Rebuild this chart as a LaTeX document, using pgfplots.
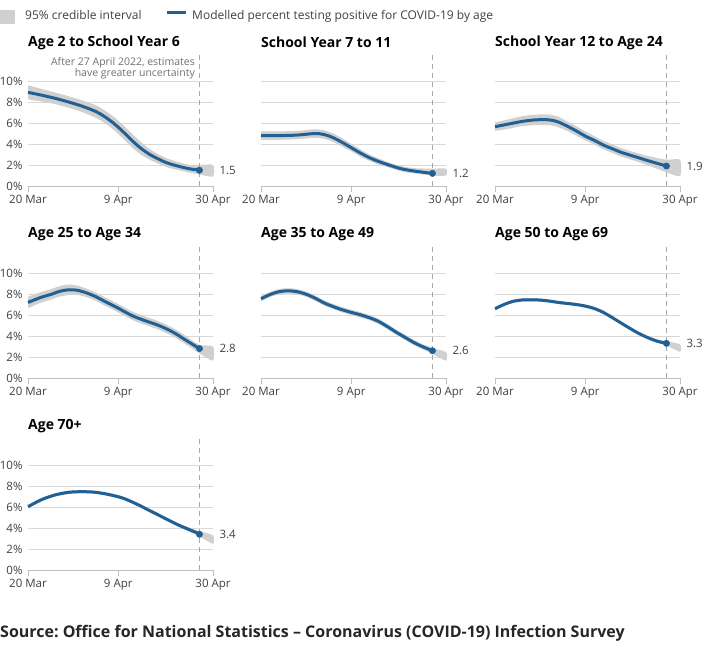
\documentclass[border=0pt]{standalone}
\usepackage{fontspec}
\setmainfont{Open Sans}
\usepackage{pgfplots}
\usepackage{pgfplotstable}
\pgfplotsset{compat=1.18}
\frenchspacing
\definecolor{onsblue}{HTML}{206095}
\definecolor{bandc}{HTML}{D0D0D0}
\definecolor{gridc}{HTML}{D9D9D9}
\definecolor{axisc}{HTML}{BFBFBF}
\definecolor{txt}{HTML}{414042}
\definecolor{dashc}{HTML}{A8A8A8}
\definecolor{notec}{HTML}{707070}

% ---------- data: line (d v) and band outline (upper forward, lower backward) ----------
\pgfplotstableread{
d v
0 8.92
3 8.65
6 8.35
9 8.0
12 7.6
15 7.1
17 6.6
19 5.97
21 5.2
23 4.35
25 3.6
27 3.0
29 2.55
31 2.17
34 1.81
36 1.62
38 1.52
}\lA
\pgfplotstableread{
d y
0 9.6
3 9.25
6 8.9
9 8.55
12 8.15
15 7.7
17 7.2
19 6.6
21 5.85
23 5.0
25 4.2
27 3.5
29 3.0
31 2.6
34 2.2
36 2.0
38 2.0
41 2.0
41 0.9
38 1.1
36 1.25
34 1.45
31 1.75
29 2.1
27 2.5
25 3.0
23 3.7
21 4.55
19 5.35
17 6.0
15 6.5
12 7.05
9 7.45
6 7.8
3 8.05
0 8.25
}\bA
\pgfplotstableread{
d v
0 4.8
4 4.8
8 4.85
12 5.0
14 4.9
16 4.6
18 4.15
20 3.65
22 3.15
24 2.7
26 2.35
28 2.05
31 1.65
34 1.42
38 1.2
}\lB
\pgfplotstableread{
d y
0 5.2
4 5.2
8 5.25
12 5.4
14 5.3
16 5.0
18 4.55
20 4.0
22 3.5
24 3.0
26 2.65
28 2.3
31 1.9
34 1.7
38 1.65
41 1.65
41 1.0
38 1.0
34 1.2
31 1.4
28 1.8
26 2.05
24 2.4
22 2.8
20 3.3
18 3.75
16 4.2
14 4.5
12 4.6
8 4.45
4 4.4
0 4.4
}\bB
\pgfplotstableread{
d v
0 5.65
3 5.9
6 6.15
9 6.3
12 6.3
14 6.1
16 5.7
18 5.25
20 4.75
22 4.35
24 3.9
26 3.55
28 3.2
31 2.8
34 2.4
38 1.9
}\lC
\pgfplotstableread{
d y
0 6.05
3 6.35
6 6.65
9 6.8
12 6.8
14 6.6
16 6.15
18 5.7
20 5.2
22 4.75
24 4.3
26 3.95
28 3.6
31 3.2
34 2.85
38 2.5
41 2.5
41 0.95
38 1.3
34 1.95
31 2.4
28 2.8
26 3.15
24 3.5
22 3.95
20 4.35
18 4.8
16 5.25
14 5.6
12 5.8
9 5.8
6 5.7
3 5.45
0 5.25
}\bC
\pgfplotstableread{
d v
0 7.2
3 7.7
5 7.95
7 8.25
9 8.4
11 8.35
13 8.1
15 7.75
17 7.3
20 6.65
23 5.95
26 5.45
29 5.0
32 4.4
35 3.6
38 2.8
}\lD
\pgfplotstableread{
d y
0 7.75
3 8.2
5 8.45
7 8.75
9 8.9
11 8.8
13 8.5
15 8.15
17 7.7
20 7.05
23 6.35
26 5.85
29 5.4
32 4.8
35 4.0
38 3.15
41 3.0
41 1.65
38 2.35
35 3.2
32 4.0
29 4.6
26 5.05
23 5.55
20 6.25
17 6.9
15 7.35
13 7.7
11 7.9
9 7.9
7 7.75
5 7.45
3 7.2
0 6.65
}\bD
\pgfplotstableread{
d v
0 7.55
2 7.95
4 8.22
6 8.3
8 8.22
10 7.98
12 7.6
14 7.15
16 6.8
18 6.5
20 6.25
22 6.02
24 5.75
26 5.4
28 4.9
30 4.35
32 3.85
34 3.35
36 2.95
38 2.6
}\lE
\pgfplotstableread{
d y
0 7.8
2 8.2
4 8.47
6 8.55
8 8.47
10 8.23
12 7.85
14 7.4
16 7.05
18 6.75
20 6.5
22 6.27
24 6.0
26 5.65
28 5.15
30 4.6
32 4.1
34 3.6
36 3.2
38 2.85
41 2.45
41 1.65
38 2.3
36 2.7
34 3.1
32 3.6
30 4.1
28 4.65
26 5.15
24 5.5
22 5.77
20 6.0
18 6.25
16 6.55
14 6.9
12 7.35
10 7.73
8 7.97
6 8.05
4 7.97
2 7.7
0 7.3
}\bE
\pgfplotstableread{
d v
0 6.6
2 7.0
4 7.3
6 7.43
8 7.45
10 7.42
12 7.33
14 7.2
16 7.1
18 7.0
20 6.85
22 6.62
24 6.25
26 5.75
28 5.22
30 4.7
32 4.22
34 3.82
36 3.5
38 3.3
}\lF
\pgfplotstableread{
d y
0 6.75
2 7.15
4 7.45
6 7.58
8 7.6
10 7.57
12 7.48
14 7.35
16 7.25
18 7.15
20 7.0
22 6.77
24 6.4
26 5.9
28 5.37
30 4.85
32 4.37
34 3.97
36 3.67
38 3.5
41 3.2
41 2.5
38 3.1
36 3.33
34 3.67
32 4.07
30 4.55
28 5.07
26 5.6
24 6.1
22 6.47
20 6.7
18 6.85
16 6.95
14 7.05
12 7.18
10 7.27
8 7.3
6 7.28
4 7.15
2 6.85
0 6.45
}\bF
\pgfplotstableread{
d v
0 6.03
3 6.7
6 7.15
9 7.4
12 7.46
15 7.4
18 7.18
21 6.85
24 6.3
27 5.65
30 5.0
33 4.35
36 3.8
38 3.45
}\lG
\pgfplotstableread{
d y
0 6.18
3 6.85
6 7.3
9 7.55
12 7.61
15 7.55
18 7.33
21 7.0
24 6.45
27 5.8
30 5.15
33 4.5
36 4.0
38 3.7
41 3.3
41 2.5
38 3.2
36 3.6
33 4.2
30 4.85
27 5.5
24 6.15
21 6.7
18 7.03
15 7.25
12 7.31
9 7.25
6 7.0
3 6.55
0 5.88
}\bG

\pgfplotsset{panel/.style={
  scale only axis, width=185bp, height=105bp,
  xmin=0, xmax=41, ymin=0, ymax=10, clip=false,
  axis lines*=left,
  y axis line style={draw=none},
  x axis line style={-, draw=axisc, line width=0.8bp},
  xtick={0,20,41}, xticklabels={20 Mar,9 Apr,30 Apr},
  ytick={0,2,4,6,8,10},
  ymajorgrids, grid style={draw=gridc, line width=0.8bp},
  tick align=outside, major tick length=6bp,
  x tick style={draw=axisc, line width=0.8bp},
  y tick style={draw=none},
  tick label style={font=\fontsize{11.5bp}{13bp}\selectfont, text=txt},
  y tick label style={xshift=4bp},
  yticklabels={},
}}
\newcommand{\panel}[7]{%
\begin{axis}[panel, at={(#1bp,-#2bp)}, anchor=south west, #7]
\addplot[fill=bandc, draw=none, smooth, tension=0.4] table[x=d,y=y]{#5} -- cycle;
\addplot[dashc, dash pattern=on 5bp off 4bp, line width=0.8bp] coordinates {(38,0) (38,12.5)};
\addplot[onsblue, line width=3bp, smooth, tension=0.5] table[x=d,y=v]{#4};
\addplot[onsblue, only marks, mark=*, mark size=3.2bp] coordinates {(38,#6)};
\node[anchor=west, text=txt, font=\fontsize{11.5bp}{13bp}\selectfont, xshift=3bp] at (axis cs:41,#6) {#6};
\node[anchor=west, inner sep=0pt, text=black, font=\bfseries\fontsize{14bp}{16bp}\selectfont] at (axis cs:0,13.67) {#3};
\end{axis}}

\begin{document}
\begin{tikzpicture}
\path[use as bounding box] (0bp,0bp) rectangle (707bp,-647bp);
% legend
\fill[bandc] (0bp,-10bp) rectangle (15bp,-24bp);
\node[anchor=base west, inner sep=0pt, text=txt, font=\fontsize{12bp}{14bp}\selectfont] at (25bp,-19.5bp) {95\% credible interval};
\draw[onsblue, line width=3bp] (167bp,-12.5bp) -- (186bp,-12.5bp);
\node[anchor=base west, inner sep=0pt, text=txt, font=\fontsize{12bp}{14bp}\selectfont] at (192bp,-19.5bp) {Modelled percent testing positive for COVID-19 by age};

\panel{28}{186}{Age 2 to School Year 6}{\lA}{\bA}{1.5}{yticklabels={0\%,2\%,4\%,6\%,8\%,10\%}}
\panel{261}{186}{School Year 7 to 11}{\lB}{\bB}{1.2}{}
\panel{495}{186}{School Year 12 to Age 24}{\lC}{\bC}{1.9}{}
\panel{28}{378}{Age 25 to Age 34}{\lD}{\bD}{2.8}{yticklabels={0\%,2\%,4\%,6\%,8\%,10\%}}
\panel{261}{378}{Age 35 to Age 49}{\lE}{\bE}{2.6}{}
\panel{495}{378}{Age 50 to Age 69}{\lF}{\bF}{3.3}{}
\panel{28}{570}{Age 70+}{\lG}{\bG}{3.4}{yticklabels={0\%,2\%,4\%,6\%,8\%,10\%}}

% annotation
\node[anchor=base east, inner sep=0pt, text=notec, font=\fontsize{10.5bp}{12bp}\selectfont] at (195bp,-65bp) {After 27 April 2022, estimates};
\node[anchor=base east, inner sep=0pt, text=notec, font=\fontsize{10.5bp}{12bp}\selectfont] at (195bp,-76.7bp) {have greater uncertainty};

% source
\node[anchor=base west, inner sep=0pt, text=black!85, font=\bfseries\fontsize{16bp}{18bp}\selectfont] at (0bp,-637.5bp) {Source: Office for National Statistics -- Coronavirus (COVID-19) Infection Survey};
\end{tikzpicture}
\end{document}
